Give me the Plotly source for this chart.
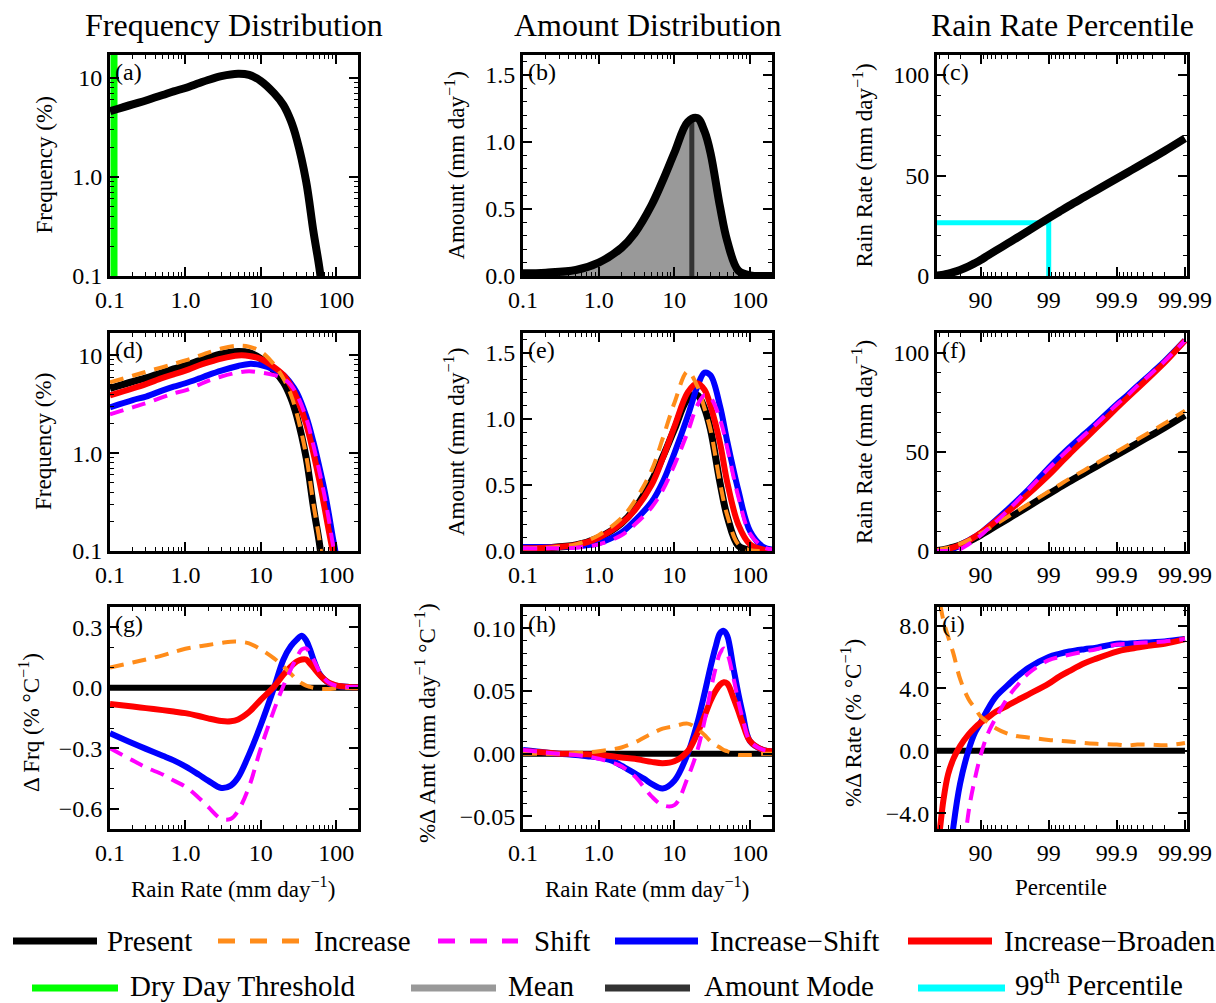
import numpy as np
import plotly.graph_objects as go

# ---------------- data ----------------
# Rain-rate grid for frequency panels (mm/day)
rate_f = [0.1, 0.2, 0.3, 0.5, 0.7, 1, 1.5, 2, 3, 5, 7, 10, 15, 20, 25, 30, 40, 50, 60, 70, 80, 90, 100, 120]
freq_present = [4.6, 5.4, 5.9, 6.7, 7.3, 7.9, 8.8, 9.5, 10.4, 11.0, 10.7, 9.3, 7.0, 5.3, 3.7, 2.4, 0.9, 0.28, 0.12, 0.045, 0.02, 0.01, 0.005, 0.002]
freq_increase = [5.3, 6.2, 6.8, 7.6, 8.2, 8.9, 9.9, 10.7, 11.8, 12.6, 12.3, 11.0, 8.1, 5.8, 4.0, 2.55, 0.95, 0.3, 0.13, 0.05, 0.022, 0.01, 0.005, 0.002]
freq_shift = [2.5, 2.95, 3.25, 3.75, 4.1, 4.4, 5.0, 5.5, 6.1, 6.7, 6.9, 6.7, 6.3, 5.8, 5.0, 4.0, 2.3, 1.2, 0.65, 0.37, 0.21, 0.12, 0.08, 0.03]
freq_incshift = [2.95, 3.5, 3.8, 4.4, 4.8, 5.2, 5.8, 6.3, 7.0, 7.8, 8.2, 8.0, 7.2, 6.3, 5.2, 4.2, 2.4, 1.3, 0.72, 0.42, 0.24, 0.14, 0.09, 0.035]
freq_incbroad = [3.9, 4.6, 5.1, 5.9, 6.4, 7.0, 7.9, 8.5, 9.3, 10.0, 9.9, 9.2, 7.6, 6.3, 4.9, 3.7, 2.0, 1.0, 0.52, 0.28, 0.16, 0.1, 0.06, 0.025]

# Rain-rate grid for amount panels (mm/day)
rate_a = [0.1, 0.2, 0.5, 1, 2, 3, 5, 7, 10, 15, 20, 25, 30, 40, 50, 70, 100, 150, 200]
amt_present = [0.02, 0.025, 0.045, 0.10, 0.21, 0.32, 0.53, 0.71, 0.92, 1.15, 1.18, 1.08, 0.92, 0.52, 0.26, 0.04, 0.005, 0.0, 0.0]
amt_increase = [0.02, 0.025, 0.05, 0.12, 0.25, 0.38, 0.61, 0.85, 1.12, 1.36, 1.25, 1.08, 0.92, 0.52, 0.27, 0.05, 0.006, 0.0, 0.0]
amt_shift = [0.02, 0.02, 0.025, 0.05, 0.12, 0.2, 0.33, 0.46, 0.65, 0.9, 1.1, 1.18, 1.16, 1.0, 0.78, 0.41, 0.13, 0.03, 0.01]
amt_incshift = [0.03, 0.03, 0.035, 0.06, 0.14, 0.23, 0.37, 0.52, 0.74, 1.02, 1.24, 1.35, 1.33, 1.1, 0.83, 0.46, 0.15, 0.03, 0.01]
amt_incbroad = [0.02, 0.025, 0.045, 0.10, 0.21, 0.31, 0.5, 0.7, 0.94, 1.2, 1.27, 1.22, 1.1, 0.82, 0.52, 0.2, 0.05, 0.01, 0.005]

dry_day_threshold = 0.113
amount_mean = 15.5
amount_mode = 17.0
amount_mean_height = 1.15
amount_mode_height = 1.18

# Rain-rate grid for change panels
rate_d = [0.1, 0.2, 0.3, 0.5, 0.7, 1, 1.5, 2, 3, 4, 5, 7, 10, 15, 20, 25, 30, 35, 40, 45, 50, 60, 70, 80, 100, 150, 200]
dfrq_present = [0.0] * len(rate_d)
dfrq_increase = [0.10, 0.125, 0.14, 0.16, 0.177, 0.193, 0.205, 0.212, 0.222, 0.228, 0.228, 0.22, 0.19, 0.145, 0.105, 0.07, 0.04, 0.022, 0.01, 0.004, 0.0, -0.005, -0.006, -0.006, -0.003, 0.0, 0.0]
dfrq_shift = [-0.30, -0.36, -0.395, -0.43, -0.46, -0.49, -0.545, -0.59, -0.65, -0.65, -0.61, -0.49, -0.3, -0.11, 0.01, 0.09, 0.15, 0.19, 0.195, 0.17, 0.14, 0.08, 0.045, 0.025, 0.01, 0.004, 0.003]
dfrq_incshift = [-0.225, -0.275, -0.303, -0.337, -0.36, -0.39, -0.43, -0.46, -0.497, -0.485, -0.445, -0.33, -0.185, 0.0, 0.14, 0.205, 0.238, 0.258, 0.235, 0.19, 0.14, 0.07, 0.04, 0.023, 0.01, 0.004, 0.003]
dfrq_incbroad = [-0.08, -0.093, -0.101, -0.111, -0.118, -0.126, -0.14, -0.152, -0.165, -0.166, -0.157, -0.12, -0.06, 0.005, 0.065, 0.105, 0.13, 0.14, 0.14, 0.12, 0.1, 0.065, 0.04, 0.025, 0.012, 0.004, 0.003]

damt_present = [0.0] * len(rate_d)
damt_increase = [0.0, 0.0, 0.0, 0.0005, 0.001, 0.002, 0.0035, 0.005, 0.009, 0.013, 0.016, 0.02, 0.022, 0.024, 0.02, 0.015, 0.01, 0.007, 0.005, 0.003, 0.002, 0.0, -0.001, -0.001, -0.001, 0.0, 0.0]
damt_shift = [0.003, 0.001, 0.0, -0.001, -0.002, -0.004, -0.007, -0.01, -0.018, -0.027, -0.034, -0.041, -0.041, -0.019, 0.002, 0.026, 0.05, 0.068, 0.08, 0.084, 0.08, 0.061, 0.042, 0.028, 0.01, 0.003, 0.002]
damt_incshift = [0.003, 0.001, 0.0, -0.001, -0.002, -0.003, -0.0055, -0.0095, -0.0157, -0.02, -0.024, -0.0277, -0.0215, 0.0, 0.024, 0.048, 0.069, 0.085, 0.096, 0.098, 0.094, 0.069, 0.048, 0.032, 0.01, 0.003, 0.002]
damt_incbroad = [0.002, 0.001, 0.0, 0.0, -0.0005, -0.001, -0.002, -0.003, -0.004, -0.0055, -0.0065, -0.0075, -0.006, 0.002, 0.016, 0.03, 0.042, 0.05, 0.055, 0.057, 0.056, 0.045, 0.034, 0.024, 0.01, 0.003, 0.002]

# Percentile grid
pct = [55, 60, 65, 70, 75, 80, 85, 88, 90, 92, 94, 96, 97, 98, 99, 99.3, 99.5, 99.7, 99.8, 99.9, 99.93, 99.95, 99.97, 99.98, 99.99]
rate_present = [0.2, 0.4, 0.7, 1.2, 1.9, 3.0, 4.8, 6.5, 8.0, 10.0, 12.6, 16.2, 18.8, 22.5, 28.8, 32.0, 35.0, 39.3, 42.7, 48.5, 51.5, 54.4, 58.7, 62.2, 68.5]
rate_increase = [0.4, 0.7, 1.1, 1.6, 2.4, 3.6, 5.5, 7.3, 8.8, 10.8, 13.5, 17.2, 19.8, 23.6, 30.0, 33.3, 36.4, 40.8, 44.3, 50.2, 53.3, 56.3, 60.7, 64.3, 70.8]
rate_shift = [0, 0, 0, 0, 0.1, 0.9, 3.4, 5.65, 7.8, 10.8, 14.6, 20.4, 24.7, 31.0, 41.7, 46.8, 51.6, 58.5, 64.1, 73.9, 78.4, 83.3, 90.1, 95.7, 106.2]
rate_incshift = [0, 0, 0.1, 0.4, 1.2, 3.0, 5.4, 7.3, 9.0, 11.8, 15.5, 21.0, 25.0, 30.8, 42.0, 47.3, 52.1, 59.0, 64.4, 74.1, 78.6, 83.3, 90.1, 95.7, 106.3]
rate_incbroad = [0.1, 0.24, 0.53, 1.06, 1.8, 3.07, 5.2, 7.3, 9.1, 11.6, 15.0, 19.8, 23.4, 28.7, 38.3, 43.7, 48.8, 56.2, 62.1, 72.2, 77.3, 82.0, 89.2, 95.0, 106.2]
p99_x = [55, 99, 99]
p99_y = [26.5, 26.5, 0]

drate_present = [0.0] * len(pct)
drate_increase = [10.8, 9.6, 8.3, 7.3, 6.2, 4.6, 3.3, 2.7, 2.2, 1.85, 1.45, 1.1, 0.95, 0.85, 0.7, 0.65, 0.6, 0.5, 0.45, 0.4, 0.35, 0.4, 0.4, 0.35, 0.5]
drate_shift = [None, None, None, None, None, -9.0, -3.9, -1.7, -0.3, 1.0, 2.1, 3.4, 4.1, 4.95, 5.8, 6.0, 6.15, 6.35, 6.5, 6.8, 6.85, 6.9, 6.95, 7.0, 7.15]
drate_incshift = [None, None, None, -8.0, -4.8, -2.1, 0.05, 1.2, 1.8, 2.6, 3.45, 4.2, 4.7, 5.3, 6.0, 6.2, 6.35, 6.5, 6.6, 6.85, 6.85, 6.9, 6.95, 7.0, 7.15]
drate_incbroad = [-7.0, -5.2, -3.1, -1.5, -0.5, 0.3, 1.05, 1.5, 1.8, 2.1, 2.5, 2.9, 3.2, 3.6, 4.3, 4.75, 5.1, 5.6, 5.9, 6.35, 6.5, 6.6, 6.75, 6.85, 7.15]

col_titles = ["Frequency Distribution", "Amount Distribution", "Rain Rate Percentile"]
panel_labels = ["(a)", "(b)", "(c)", "(d)", "(e)", "(f)", "(g)", "(h)", "(i)"]

# ---------------- styling ----------------
FONT = '"Liberation Serif", "Times New Roman", Times, serif'
W, H = 1216, 1003
COLX = [(110, 358), (523, 772), (937, 1187)]   # pixels
ROWY = [(55, 276), (333, 551), (607, 829)]

C_PRES = "#000000"
C_INC = "#FF8C1A"
C_SHIFT = "#FF00FF"
C_INCSHIFT = "#0000FF"
C_INCBROAD = "#FF0000"
C_DRY = "#00FF00"
C_MEAN = "#999999"
C_MODE = "#333333"
C_P99 = "#00FFFF"
DASH = "14px,9px"


def PX(px):
    return px / W


def PY(py):
    return 1 - py / H


def pt(p):
    return [-np.log10(100.0 - v) for v in p]


fig = go.Figure()


def sfx(i):
    return "" if i == 0 else str(i + 1)


def add(i, x, y, color, width, dash="solid", shape="spline", **kw):
    fig.add_trace(go.Scatter(
        x=x, y=y, mode="lines",
        line=dict(color=color, width=width, dash=dash, shape=shape, smoothing=1.0),
        xaxis="x" + sfx(i), yaxis="y" + sfx(i),
        showlegend=False, hoverinfo="skip", **kw))


# (a)
add(0, [dry_day_threshold, dry_day_threshold], [0.01, 100], C_DRY, 7, shape="linear")
add(0, rate_f, freq_present, C_PRES, 8)
# (b)
add(1, rate_a, amt_present, C_MEAN, 0, fill="tozeroy", fillcolor=C_MEAN)
add(1, [amount_mean, amount_mean], [0, amount_mean_height], C_MEAN, 5, shape="linear")
add(1, [amount_mode, amount_mode], [0, amount_mode_height], C_MODE, 5, shape="linear")
add(1, rate_a, amt_present, C_PRES, 8)
# (c)
add(2, pt(p99_x), p99_y, C_P99, 5, shape="linear")
add(2, pt(pct), rate_present, C_PRES, 8)

# (d)
add(3, rate_f, freq_present, C_PRES, 7)
add(3, rate_f, freq_incshift, C_INCSHIFT, 6)
add(3, rate_f, freq_incbroad, C_INCBROAD, 6)
add(3, rate_f, freq_increase, C_INC, 4, DASH)
add(3, rate_f, freq_shift, C_SHIFT, 4, DASH)
# (e)
add(4, rate_a, amt_present, C_PRES, 7)
add(4, rate_a, amt_incshift, C_INCSHIFT, 6)
add(4, rate_a, amt_incbroad, C_INCBROAD, 6)
add(4, rate_a, amt_increase, C_INC, 4, DASH)
add(4, rate_a, amt_shift, C_SHIFT, 4, DASH)
# (f)
add(5, pt(pct), rate_present, C_PRES, 7)
add(5, pt(pct), rate_incshift, C_INCSHIFT, 6)
add(5, pt(pct), rate_incbroad, C_INCBROAD, 6)
add(5, pt(pct), rate_increase, C_INC, 4, DASH)
add(5, pt(pct), rate_shift, C_SHIFT, 4, DASH)

# (g)
add(6, rate_d, dfrq_present, C_PRES, 6, shape="linear")
add(6, rate_d, dfrq_incshift, C_INCSHIFT, 6)
add(6, rate_d, dfrq_incbroad, C_INCBROAD, 6)
add(6, rate_d, dfrq_increase, C_INC, 4, DASH)
add(6, rate_d, dfrq_shift, C_SHIFT, 4, DASH)
# (h)
add(7, rate_d, damt_present, C_PRES, 6, shape="linear")
add(7, rate_d, damt_incshift, C_INCSHIFT, 6)
add(7, rate_d, damt_incbroad, C_INCBROAD, 6)
add(7, rate_d, damt_increase, C_INC, 4, DASH)
add(7, rate_d, damt_shift, C_SHIFT, 4, DASH)
# (i)
add(8, pt(pct), drate_present, C_PRES, 6, shape="linear")
add(8, pt(pct), drate_incshift, C_INCSHIFT, 6)
add(8, pt(pct), drate_incbroad, C_INCBROAD, 6)
add(8, pt(pct), drate_increase, C_INC, 4, DASH)
add(8, pt(pct), drate_shift, C_SHIFT, 4, DASH)

# ---------------- axes ----------------
TICKFONT = dict(family=FONT, size=24, color="black")
common = dict(showline=True, linewidth=3, linecolor="black", mirror="ticks",
              ticks="inside", ticklen=9, tickwidth=1.5, tickcolor="black",
              showgrid=False, zeroline=False, tickfont=TICKFONT, fixedrange=True,
              tickangle=0)
MINOR = dict(ticks="inside", ticklen=4, tickwidth=1, tickcolor="black", showgrid=False)

log_minor = [k * 10.0 ** n for n in range(-1, 3) for k in range(2, 10)]
pct_minor = [-np.log10(k * 10.0 ** n) for n in range(-2, 2) for k in range(2, 10)]

xlog = dict(type="log", range=[-1, 2.29], tickmode="array",
            tickvals=[0.1, 1, 10, 100], ticktext=["0.1", "1.0", "10", "100"],
            minor=dict(MINOR, tickmode="array", tickvals=log_minor))
xpct = dict(type="linear", range=[-1.64, 2.03], tickmode="array",
            tickvals=[-1, 0, 1, 2], ticktext=["90", "99", "99.9", "99.99"],
            ticklabeloverflow="allow",
            minor=dict(MINOR, tickmode="array", tickvals=pct_minor))

ylog = dict(type="log", range=[-1, 1.23], tickmode="array",
            tickvals=[0.1, 1, 10], ticktext=["0.1", "1.0", "10"],
            minor=dict(MINOR, tickmode="array", tickvals=log_minor))
yamt = dict(range=[0, 1.65], tickmode="array", tickvals=[0, 0.5, 1.0, 1.5],
            ticktext=["0.0", "0.5", "1.0", "1.5"], minor=dict(MINOR, dtick=0.1, tick0=0))
yrate = dict(range=[0, 110], tickmode="array", tickvals=[0, 50, 100],
             ticktext=["0", "50", "100"], minor=dict(MINOR, dtick=10, tick0=0))
ydfrq = dict(range=[-0.7, 0.4], tickmode="array", tickvals=[-0.6, -0.3, 0.0, 0.3],
             ticktext=["\u22120.6", "\u22120.3", "0.0", "0.3"], minor=dict(MINOR, dtick=0.1, tick0=0))
ydamt = dict(range=[-0.06, 0.117], tickmode="array", tickvals=[-0.05, 0.0, 0.05, 0.10],
             ticktext=["\u22120.05", "0.00", "0.05", "0.10"], minor=dict(MINOR, dtick=0.01, tick0=0))
ydrate = dict(range=[-5.0, 9.2], tickmode="array", tickvals=[-4, 0, 4, 8],
              ticktext=["\u22124.0", "0.0", "4.0", "8.0"], minor=dict(MINOR, dtick=1, tick0=0))

xspecs = [xlog, xlog, xpct] * 3
yspecs = [ylog, yamt, yrate, ylog, yamt, yrate, ydfrq, ydamt, ydrate]

layout_axes = {}
for i in range(9):
    r, c = divmod(i, 3)
    x0, x1 = COLX[c]
    y0, y1 = ROWY[r]
    xa = dict(common)
    xa.update(xspecs[i])
    xa.update(domain=[PX(x0), PX(x1)], anchor="y" + sfx(i))
    ya = dict(common)
    ya.update(yspecs[i])
    ya.update(domain=[PY(y1), PY(y0)], anchor="x" + sfx(i))
    layout_axes["xaxis" + sfx(i)] = xa
    layout_axes["yaxis" + sfx(i)] = ya

annotations = []


def ann(text, x, y, size, xanchor="center", yanchor="middle", angle=0):
    annotations.append(dict(text=text, x=PX(x), y=PY(y), xref="paper", yref="paper",
                            xanchor=xanchor, yanchor=yanchor, textangle=angle, showarrow=False,
                            font=dict(family=FONT, size=size, color="black")))


# column titles
for c, t in enumerate(col_titles):
    ann(t, (COLX[c][0] + COLX[c][1]) / 2, 25, 32)

# panel labels
for i, lab in enumerate(panel_labels):
    r, c = divmod(i, 3)
    ann(lab, COLX[c][0] + 3, ROWY[r][0] + 17, 24, xanchor="left")

# y-axis titles
SUPM = "<sup>\u22121</sup>"
ytitles = [
    ("Frequency (%)", 44, 0), ("Amount (mm day" + SUPM + ")", 455, 0), ("Rain Rate (mm day" + SUPM + ")", 863, 0),
    ("Frequency (%)", 44, 1), ("Amount (mm day" + SUPM + ")", 455, 1), ("Rain Rate (mm day" + SUPM + ")", 863, 1),
    ("\u0394 Frq (% \u00b0C" + SUPM + ")", 29, 2), ("%\u0394 Amt (mm day" + SUPM + " \u00b0C" + SUPM + ")", 425, 2),
    ("%\u0394 Rate (% \u00b0C" + SUPM + ")", 851, 2),
]
for t, x, r in ytitles:
    ann(t, x, (ROWY[r][0] + ROWY[r][1]) / 2 + (5 if r == 2 else 0), 23, angle=-90)

# x-axis titles
ann("Rain Rate (mm day" + SUPM + ")", 233, 887, 23)
ann("Rain Rate (mm day" + SUPM + ")", 647, 887, 23)
ann("Percentile", 1061, 887, 23)

# legend (drawn manually)
shapes = []
legend_items = [
    ("Present", C_PRES, "solid", 13, 97, 105, 941, 941),
    ("Increase", C_INC, "17px,15px", 218, 300, 312, 941, 941),
    ("Shift", C_SHIFT, "17px,15px", 438, 518, 532, 941, 941),
    ("Increase\u2212Shift", C_INCSHIFT, "solid", 615, 698, 708, 941, 941),
    ("Increase\u2212Broaden", C_INCBROAD, "solid", 908, 992, 1002, 941, 941),
    ("Dry Day Threshold", C_DRY, "solid", 32, 118, 128, 988, 986),
    ("Mean", C_MEAN, "solid", 411, 496, 506, 988, 986),
    ("Amount Mode", C_MODE, "solid", 605, 690, 702, 988, 986),
    ("99<sup>th</sup> Percentile", C_P99, "solid", 918, 1005, 1013, 988, 983),
]
for text, color, dash, lx0, lx1, tx, ly, ty in legend_items:
    shapes.append(dict(type="line", xref="paper", yref="paper",
                       x0=PX(lx0), x1=PX(lx1), y0=PY(ly), y1=PY(ly),
                       line=dict(color=color, width=7 if dash == "solid" else 5, dash=dash)))
    ann(text, tx, ty, 29, xanchor="left")

fig.update_layout(
    width=W, height=H,
    margin=dict(l=0, r=0, t=0, b=0, autoexpand=False),
    paper_bgcolor="white", plot_bgcolor="white",
    showlegend=False,
    annotations=annotations,
    shapes=shapes,
    font=dict(family=FONT, color="black"),
    **layout_axes,
)

# remove the default page margin so the 1216x1003 figure fills the window exactly
fig.write_html("out.html",
               config={"displayModeBar": False},
               post_script="document.body.style.margin='0';document.body.style.overflow='hidden';")
